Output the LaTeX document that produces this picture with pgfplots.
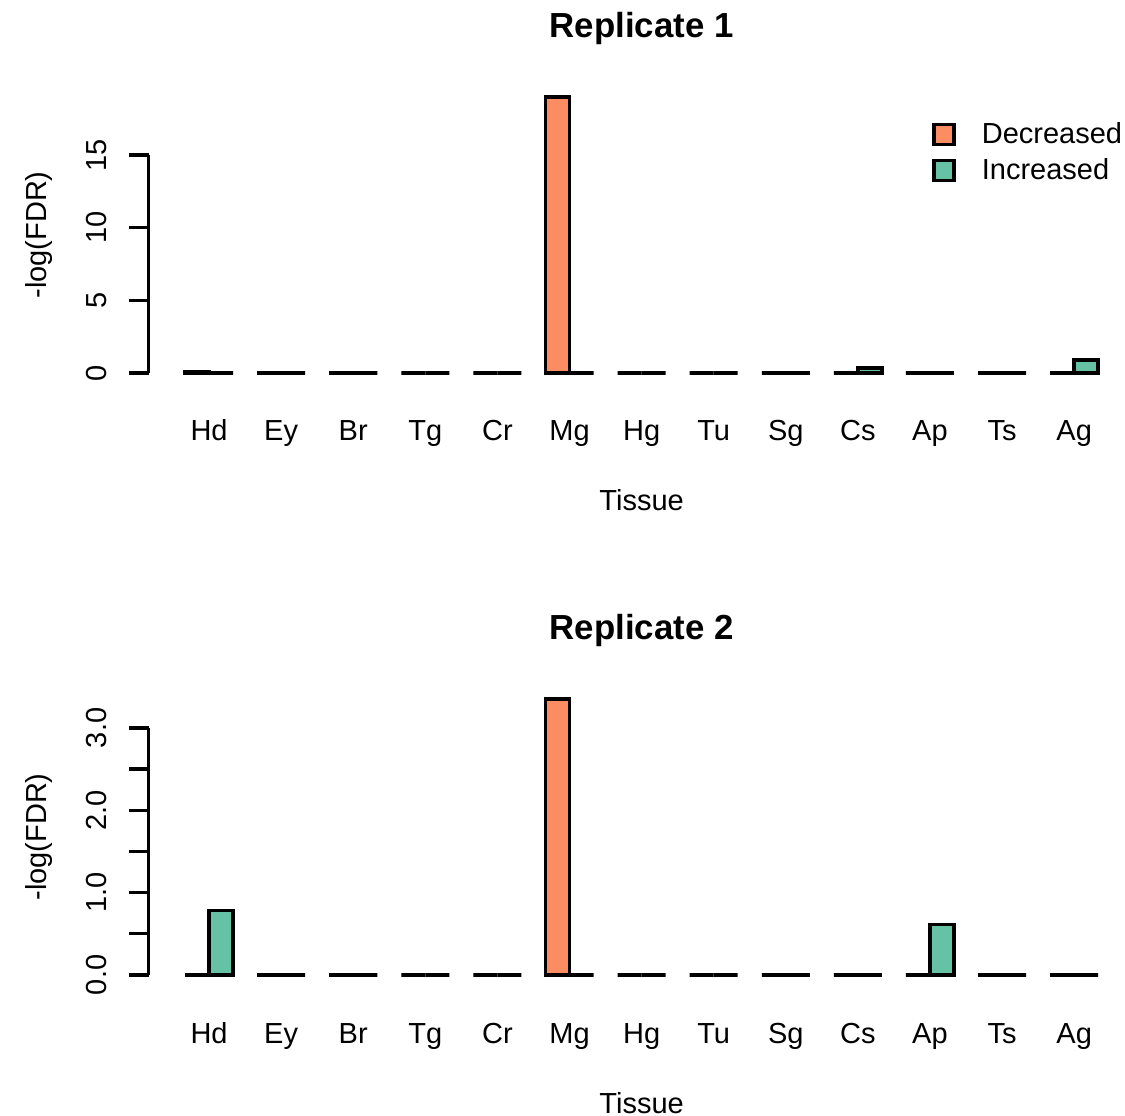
\documentclass[border=0pt]{standalone}
\usepackage{fontspec}
\setmainfont{Liberation Sans}
\usepackage{pgfplots}
\pgfplotsset{compat=1.18}
\definecolor{decr}{HTML}{FC8D62}
\definecolor{incr}{HTML}{66C2A5}
\newcommand{\fs}{\fontsize{14.5}{17.4}\selectfont}
\newcommand{\fst}{\fontsize{17.4}{20}\selectfont\bfseries}
\pgfplotsset{
  rplot/.style={
    scale only axis, width=493.1pt, height=149pt,
    xmin=-0.52, xmax=40.52,
    axis line style={draw=none},
    tick pos=left, tick align=outside,
    major tick length=9.5pt, minor tick length=9.5pt,
    every tick/.style={black, line width=1.7pt},
    xtick={2,5,...,38},
    xticklabels={Hd,Ey,Br,Tg,Cr,Mg,Hg,Tu,Sg,Cs,Ap,Ts,Ag},
    xtick style={draw=none},
    xticklabel style={font=\fs, anchor=base, yshift=-19pt},
    yticklabel style={font=\fs, rotate=90, anchor=base, yshift=11.5pt},
    title style={font=\fst, at={(0.5,1)}, anchor=base, yshift=18pt},
    xlabel style={font=\fs, at={(axis description cs:0.5,0)}, anchor=base, yshift=-63.5pt},
    ylabel style={font=\fs, at={(axis description cs:0,0.5)}, anchor=base, yshift=51pt},
    xlabel={Tissue}, ylabel={-log(FDR)},
    clip=false,
  },
  rbar/.style={ybar, bar width=1, bar shift=0pt, draw=black, line width=1.7pt, fill=#1,
    legend image code/.code={\draw[line width=1.7pt, draw=black, fill=#1] (0pt,-5pt) rectangle (10pt,5pt);}},
}
\begin{document}
\begin{tikzpicture}
\path[use as bounding box] (0,0) rectangle (562.5pt,557.5pt);
\begin{axis}[rplot, at={(74.25pt,365.5pt)}, anchor=south west,
  ymin=-0.76, ymax=19.76, ytick={0,5,10,15}, yticklabels={0,5,10,15},
  title={Replicate 1},
  legend style={at={(0.7945,0.893)}, anchor=north west, draw=none, fill=none, font=\fs,
    inner sep=0pt, column sep=11pt, row sep=2pt, cells={anchor=west}},
]
\addplot[rbar=decr] coordinates {(1.5,0.06) (4.5,0) (7.5,0) (10.5,0) (13.5,0) (16.5,19.0) (19.5,0) (22.5,0) (25.5,0) (28.5,0) (31.5,0) (34.5,0) (37.5,0)};
\addlegendentry{Decreased}
\addplot[rbar=incr] coordinates {(2.5,0) (5.5,0) (8.5,0) (11.5,0) (14.5,0) (17.5,0) (20.5,0) (23.5,0) (26.5,0) (29.5,0.35) (32.5,0) (35.5,0) (38.5,0.9)};
\addlegendentry{Increased}
\draw[line width=1.7pt] (axis cs:-0.52,0) -- (axis cs:-0.52,15);
\end{axis}
\begin{axis}[rplot, at={(74.25pt,64.5pt)}, anchor=south west,
  ymin=-0.134, ymax=3.484, ytick={0,1,2,3}, yticklabels={0.0,1.0,2.0,3.0},
  minor ytick={0.5,1.5,2.5},
  title={Replicate 2},
]
\addplot[rbar=decr] coordinates {(1.5,0) (4.5,0) (7.5,0) (10.5,0) (13.5,0) (16.5,3.35) (19.5,0) (22.5,0) (25.5,0) (28.5,0) (31.5,0) (34.5,0) (37.5,0)};
\addplot[rbar=incr] coordinates {(2.5,0.78) (5.5,0) (8.5,0) (11.5,0) (14.5,0) (17.5,0) (20.5,0) (23.5,0) (26.5,0) (29.5,0) (32.5,0.61) (35.5,0) (38.5,0)};
\draw[line width=1.7pt] (axis cs:-0.52,0) -- (axis cs:-0.52,3);
\end{axis}
\end{tikzpicture}
\end{document}
